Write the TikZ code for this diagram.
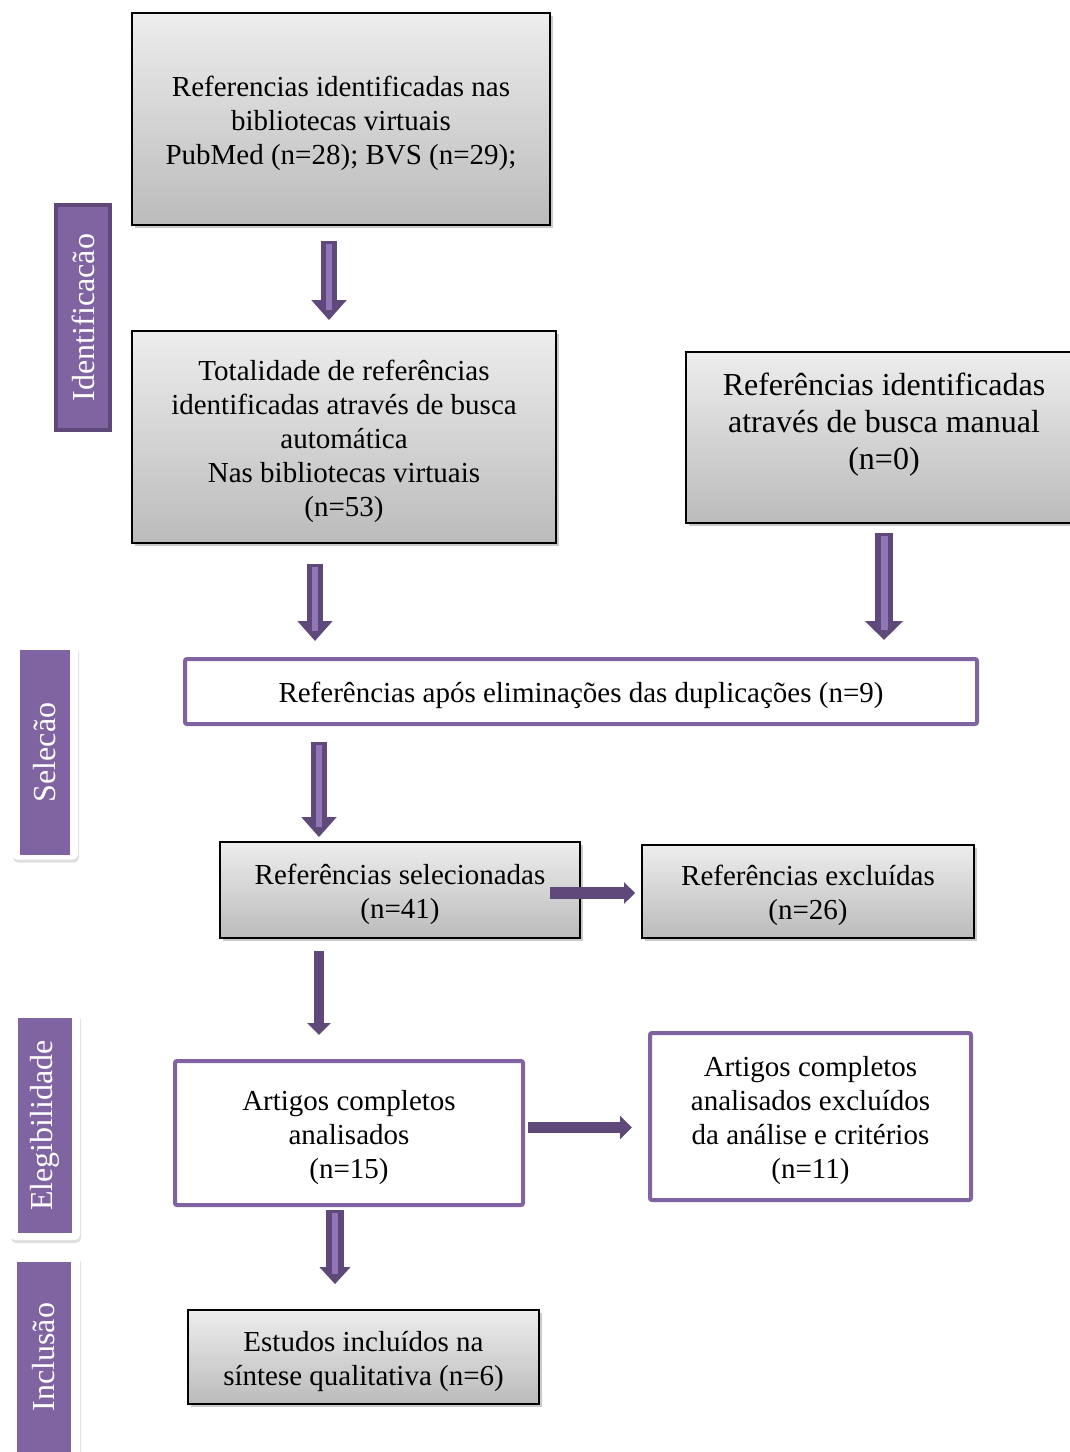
\documentclass[tikz,border=0pt]{standalone}
\usepackage{fontspec}
\setmainfont{Liberation Serif}
\usetikzlibrary{arrows.meta,shadows,calc}
\definecolor{pdark}{HTML}{5F497A}
\definecolor{pmid}{HTML}{8064A2}
\definecolor{plight}{HTML}{9176B6}
\definecolor{gtop}{HTML}{EDEDED}
\definecolor{gbot}{HTML}{BBBBBB}
\newcommand\firststrut{\rule{0pt}{29pt}}
\newcommand\firststrutB{\rule{0pt}{32pt}}
\begin{document}
\begin{tikzpicture}[x=1pt,y=-1pt,
  txt/.style={align=center, font=\fontsize{29pt}{34pt}\selectfont, inner sep=0pt},
  graybox/.style={txt, draw=black, line width=1.8pt, top color=gtop, bottom color=gbot,
    drop shadow={shadow xshift=3pt, shadow yshift=-3pt, opacity=0.35, fill=black!60}},
  purplebox/.style={txt, draw=pmid, line width=4pt, rounded corners=2pt, fill=white},
  sidelbl/.style={rotate=90, fill=pmid, text=white, inner sep=0pt,
    font=\fontsize{32pt}{36pt}\selectfont},
  sideouter/.style={rotate=90, fill=white, rounded corners=5pt, inner sep=0pt,
    drop shadow={shadow xshift=1pt, shadow yshift=-3pt, opacity=0.25}},
  oarrow/.style n args={3}{draw=pdark, line width=#1, -{Triangle[width=#2,length=#3]}},
  stripe/.style={draw=plight, line width=#1},
  sarrow/.style n args={3}{draw=pdark, line width=#1, -{Triangle[width=#2,length=#3]}}
]
\useasboundingbox (0,0) rectangle (1070,1452);
\clip (0,0) rectangle (1070,1452);

% boxes
\node[graybox, minimum width=418pt, minimum height=212pt] (A) at (341,119)
  {\firststrut Referencias identificadas nas\\ bibliotecas virtuais\\ PubMed (n=28); BVS (n=29);};
\node[graybox, minimum width=424pt, minimum height=212pt] (C) at (344,437)
  {\firststrut Totalidade de referências\\ identificadas através de busca\\ automática\\ Nas bibliotecas virtuais\\ (n=53)};
\node[graybox, minimum width=396pt, minimum height=171pt] (B) at (884,437.5) {};
\node[txt, font=\fontsize{32pt}{37pt}\selectfont] (Bt) at ([yshift=18pt]B.center)
  {\firststrutB Referências identificadas\\ através de busca manual\\ (n=0)};
\node[purplebox, minimum width=792pt, minimum height=65pt] (D) at (581,691.5)
  {\firststrut Referências após eliminações das duplicações (n=9)};
\node[graybox, minimum width=360pt, minimum height=96pt] (E) at (400,890)
  {\firststrut Referências selecionadas\\ (n=41)};
\node[graybox, minimum width=332pt, minimum height=93pt] (F) at (808,891.5)
  {\firststrut Referências excluídas\\ (n=26)};
\node[purplebox, minimum width=348pt, minimum height=144pt] (G) at (349,1133)
  {\firststrut Artigos completos\\ analisados\\ (n=15)};
\node[purplebox, minimum width=321pt, minimum height=167pt] (H) at (810.5,1116.5)
  {\firststrut Artigos completos\\ analisados excluídos\\ da análise e critérios\\ (n=11)};
\node[graybox, minimum width=351pt, minimum height=94pt] (I) at (363.5,1357)
  {\firststrut Estudos incluídos na\\ síntese qualitativa (n=6)};

% side labels
\node[sidelbl, draw=pdark, line width=4pt, minimum width=225pt, minimum height=54pt] (s1) at (83,317.5) {Identificacão};
\node[sideouter, minimum width=215pt, minimum height=66pt] (s2o) at (45,752) {};
\node[sidelbl, minimum width=205pt, minimum height=50pt] (s2) at (45,752.5) {Selecão};
\node[sideouter, minimum width=228pt, minimum height=70pt] (s3o) at (45,1126) {};
\node[sidelbl, minimum width=215pt, minimum height=54pt] (s3) at (45,1125.5) {Elegibilidade};
\node[sideouter, minimum width=215pt, minimum height=70pt] (s4o) at (45,1362) {};
\node[sidelbl, minimum width=190pt, minimum height=54pt] (s4) at (44,1357) {Inclusão};

% outlined vertical arrows
\draw[oarrow={16pt}{34pt}{20pt}] ([xshift=-12pt,yshift=-15pt]A.south) -- ([xshift=-15pt,yshift=10pt]C.north);
\draw[stripe=6pt] ([xshift=-12pt,yshift=-18pt]A.south) -- ([xshift=-15pt,yshift=20pt]C.north);

\draw[oarrow={16pt}{34pt}{20pt}] ([xshift=-29pt,yshift=-20pt]C.south) -- ([xshift=-266pt,yshift=16pt]D.north);
\draw[stripe=6pt] ([xshift=-29pt,yshift=-23pt]C.south) -- ([xshift=-266pt,yshift=26pt]D.north);

\draw[oarrow={18pt}{37pt}{19pt}] ([yshift=-9pt]B.south) -- ([xshift=303pt,yshift=17pt]D.north);
\draw[stripe=7pt] ([yshift=-12pt]B.south) -- ([xshift=303pt,yshift=27pt]D.north);

\draw[oarrow={16pt}{34pt}{20pt}] ([xshift=-262pt,yshift=-16pt]D.south) -- ([xshift=-81pt,yshift=4pt]E.north);
\draw[stripe=6pt] ([xshift=-262pt,yshift=-19pt]D.south) -- ([xshift=-81pt,yshift=14pt]E.north);

\draw[oarrow={18pt}{30pt}{17pt}] ([xshift=-14pt,yshift=-3pt]G.south) -- ([xshift=-28.5pt,yshift=25pt]I.north);
\draw[stripe=6pt] ([xshift=-14pt,yshift=-6pt]G.south) -- ([xshift=-28.5pt,yshift=35pt]I.north);

% solid arrows
\draw[sarrow={10pt}{23pt}{12pt}] ([xshift=-81pt,yshift=-12pt]E.south) -- ([xshift=-30pt,yshift=24pt]G.north);
\draw[sarrow={12pt}{21pt}{11pt}] ([xshift=-31pt,yshift=-3pt]E.east) -- ([xshift=-6pt,yshift=-1.5pt]F.west);
\draw[sarrow={11pt}{23pt}{12pt}] ([xshift=3pt,yshift=5.5pt]G.east) -- ([xshift=-16pt,yshift=-11pt]H.west);
\end{tikzpicture}
\end{document}
